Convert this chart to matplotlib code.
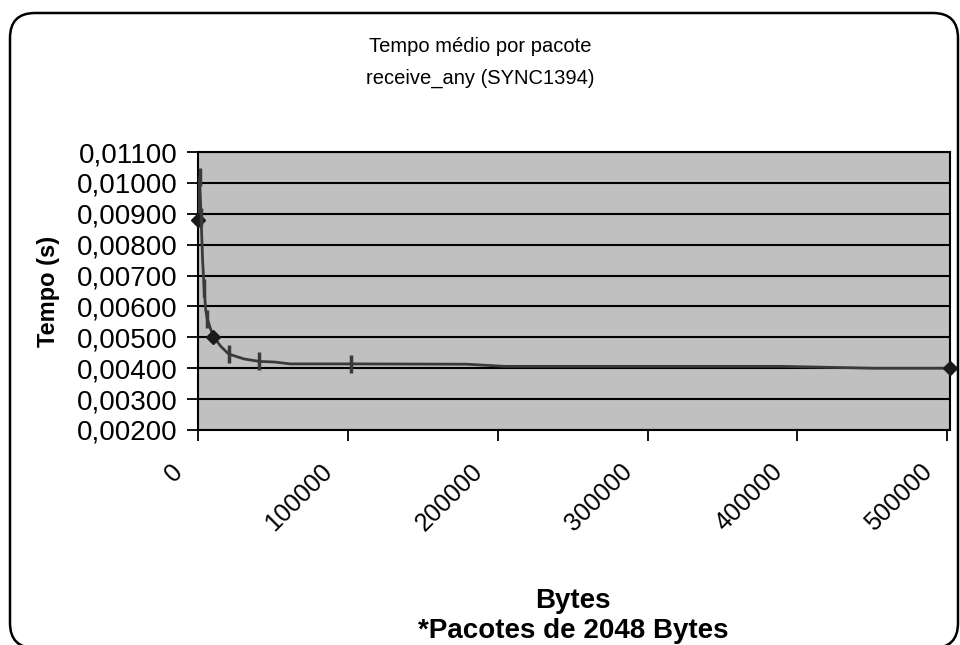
import matplotlib.pyplot as plt
from matplotlib.patches import FancyBboxPatch
from matplotlib.transforms import ScaledTranslation
from matplotlib.ticker import FuncFormatter

# data
bytes_x = [0, 1024, 2048, 3072, 4096, 5120, 6144, 8192, 10240, 15360, 20480,
           30720, 40960, 51200, 61440, 102400, 179200, 204800, 389120,
           450560, 501760]
tempo = [0.00880, 0.01020, 0.00890, 0.00750, 0.00660, 0.00590, 0.00560,
         0.00530, 0.00502, 0.00470, 0.00446, 0.00430, 0.00422, 0.00420,
         0.00414, 0.00414, 0.00413, 0.00406, 0.00406, 0.00400, 0.00400]
diamond_idx = [0, 8, 20]
dash_idx = [1, 2, 4, 6, 10, 12, 15]

x_ticks = [0, 100000, 200000, 300000, 400000, 500000]
y_ticks = [0.002, 0.003, 0.004, 0.005, 0.006, 0.007, 0.008, 0.009, 0.010, 0.011]

plt.rcParams['font.family'] = ['Liberation Sans', 'DejaVu Sans']

fig = plt.figure(figsize=(9.6, 6.45), dpi=100)

# rounded outer frame (chart area)
frame = FancyBboxPatch((0.10, -0.03), 9.48, 6.35,
                       boxstyle='round,pad=0,rounding_size=0.25',
                       transform=fig.dpi_scale_trans, facecolor='white',
                       edgecolor='black', linewidth=1.8, zorder=-10)
fig.patches.append(frame)

ax = fig.add_axes([198 / 960, 1 - 430 / 645, 752 / 960, 278 / 645])
ax.set_facecolor('#c0c0c0')

ax.plot(bytes_x, tempo, color='#3a3a3a', linewidth=2, zorder=3)
ax.plot([bytes_x[i] for i in diamond_idx], [tempo[i] for i in diamond_idx],
        linestyle='none', marker='D', markersize=7, color='#1a1a1a',
        zorder=4, clip_on=False)
ax.plot([bytes_x[i] for i in dash_idx], [tempo[i] for i in dash_idx],
        linestyle='none', marker='|', markersize=13, markeredgewidth=2.5,
        color='#3a3a3a', zorder=4)

ax.set_xlim(0, 501760)
ax.set_ylim(0.002, 0.011)
ax.set_xticks(x_ticks)
ax.set_yticks(y_ticks)
ax.yaxis.set_major_formatter(FuncFormatter(lambda v, p: f'{v:.5f}'.replace('.', ',')))
ax.grid(axis='y', color='black', linewidth=1.5)
ax.set_axisbelow(True)
for s in ax.spines.values():
    s.set_color('black')
    s.set_linewidth(1.5)

ax.tick_params(axis='y', direction='out', length=8, width=1.3, labelsize=20, pad=7)
ax.tick_params(axis='x', direction='out', length=8, width=1.3, labelsize=18, pad=0)

offset = ScaledTranslation(-19 / 100, -27 / 100, fig.dpi_scale_trans)
for lab in ax.get_xticklabels():
    lab.set_rotation(45)
    lab.set_rotation_mode('anchor')
    lab.set_ha('right')
    lab.set_va('center')
    lab.set_transform(lab.get_transform() + offset)

ax.set_ylabel('Tempo (s)', fontsize=17, fontweight='bold')
ax.yaxis.set_label_coords(-138 / 752, 0.5)

fig.text(0.5, 1 - 47 / 645, 'Tempo médio por pacote', ha='center', va='center', fontsize=14.5)
fig.text(0.5, 1 - 78 / 645, 'receive_any (SYNC1394)', ha='center', va='center', fontsize=14.5)
fig.text(573 / 960, 1 - 601 / 645, 'Bytes', ha='center', va='center',
         fontsize=20, fontweight='bold')
fig.text(573 / 960, 1 - 631 / 645, '*Pacotes de 2048 Bytes', ha='center', va='center',
         fontsize=20, fontweight='bold')

fig.savefig('out.png', dpi=100)
